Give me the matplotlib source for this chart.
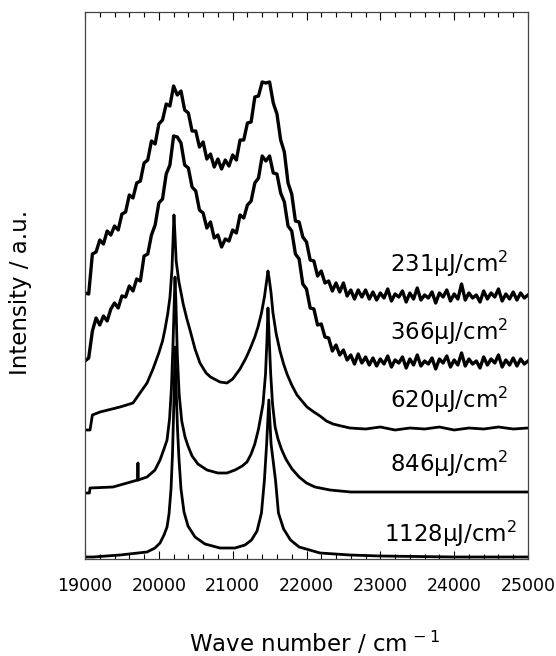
import matplotlib
matplotlib.use("Agg")
import matplotlib.pyplot as plt
import numpy as np
from matplotlib.ticker import MultipleLocator

# excitation fluences of the five spectra (label text)
FLUENCES = ["231", "366", "620", "846", "1128"]

# the two low-fluence spectra are noisy; read every 50 cm^-1
WN_NOISY = np.arange(19000, 25001, 50)

I_231 = [
    2.66, 2.65, 3.05, 3.07, 3.19, 3.15, 3.28, 3.24, 3.33, 3.29,
    3.45, 3.47, 3.64, 3.61, 3.76, 3.78, 3.96, 3.99, 4.18, 4.15,
    4.35, 4.39, 4.55, 4.53, 4.73, 4.64, 4.68, 4.49, 4.46, 4.28,
    4.28, 4.12, 4.17, 4.00, 4.05, 3.92, 4.00, 3.90, 3.99, 3.93,
    4.04, 3.99, 4.19, 4.19, 4.36, 4.37, 4.62, 4.63, 4.77, 4.76,
    4.77, 4.56, 4.45, 4.19, 4.07, 3.76, 3.65, 3.38, 3.37, 3.22,
    3.17, 2.99, 2.98, 2.83, 2.88, 2.76, 2.78, 2.68, 2.76, 2.67,
    2.76, 2.63, 2.69, 2.60, 2.69, 2.62, 2.69,
    2.60, 2.67, 2.59, 2.66, 2.61, 2.70, 2.58, 2.65, 2.62, 2.68,
    2.57, 2.66, 2.60, 2.71, 2.59, 2.64, 2.61, 2.67, 2.56, 2.66,
    2.62, 2.69, 2.58, 2.65, 2.60, 2.75, 2.59, 2.66, 2.61, 2.64,
    2.57, 2.68, 2.60, 2.66, 2.62, 2.70, 2.58, 2.65, 2.60, 2.67,
    2.59, 2.66, 2.61, 2.64,
]

I_366 = [
    1.98, 2.01, 2.28, 2.41, 2.34, 2.43, 2.38, 2.50, 2.56, 2.51,
    2.63, 2.62, 2.73, 2.68, 2.80, 2.78, 3.03, 3.05, 3.24, 3.34,
    3.56, 3.60, 3.85, 3.94, 4.23, 4.22, 4.16, 3.94, 3.91, 3.72,
    3.68, 3.49, 3.46, 3.31, 3.37, 3.21, 3.24, 3.12, 3.20, 3.18,
    3.29, 3.26, 3.44, 3.41, 3.54, 3.58, 3.76, 3.81, 4.03, 3.98,
    4.03, 3.86, 3.85, 3.66, 3.57, 3.33, 3.28, 3.05, 3.00, 2.75,
    2.70, 2.51, 2.50, 2.34, 2.35, 2.22, 2.21, 2.08, 2.14, 2.04,
    2.09, 1.99, 2.04, 1.95, 2.05, 1.96, 2.02,
    1.94, 2.01, 1.93, 2.00, 1.95, 2.03, 1.92, 1.99, 1.96, 2.02,
    1.91, 2.00, 1.94, 2.04, 1.93, 1.98, 1.95, 2.01, 1.90, 2.00,
    1.96, 2.03, 1.92, 1.99, 1.94, 2.06, 1.93, 2.00, 1.95, 1.98,
    1.91, 2.02, 1.94, 2.00, 1.96, 2.04, 1.92, 1.99, 1.94, 2.01,
    1.93, 2.00, 1.95, 1.98,
]

WN_620 = [
    19000, 19068, 19100, 19203, 19474, 19650, 19745, 19840, 19921, 20000,
    20050, 20084, 20120, 20151, 20178, 20195, 20205, 20218, 20235, 20270,
    20330, 20380, 20422, 20490, 20557, 20640, 20700, 20828, 20923, 21000,
    21099, 21180, 21235, 21300, 21343, 21390, 21430, 21460, 21478, 21495,
    21520, 21546, 21590, 21641, 21690, 21736, 21800, 21871, 22007, 22100,
    22183, 22270, 22359, 22470, 22589, 22800, 23000, 23200, 23400, 23600,
    23800, 24000, 24200, 24400, 24600, 24800, 25000,
]
I_620 = [
    1.29, 1.29, 1.44, 1.47, 1.52, 1.56, 1.66, 1.76, 1.90, 2.06,
    2.18, 2.30, 2.45, 2.62, 2.90, 3.25, 3.44, 3.25, 2.98, 2.78,
    2.55, 2.40, 2.29, 2.10, 1.96, 1.86, 1.82, 1.77, 1.76, 1.80,
    1.90, 2.01, 2.10, 2.22, 2.32, 2.46, 2.62, 2.78, 2.88, 2.80,
    2.66, 2.46, 2.25, 2.08, 1.95, 1.85, 1.74, 1.64, 1.52, 1.47,
    1.43, 1.38, 1.35, 1.33, 1.31, 1.30, 1.32, 1.29, 1.31, 1.30,
    1.32, 1.29, 1.31, 1.30, 1.32, 1.30, 1.31,
]

WN_846 = [
    19000, 19060, 19068, 19379, 19714, 19717, 19720, 19840, 19948, 20016,
    20070, 20111, 20145, 20170, 20192, 20210, 20219, 20232, 20250, 20275,
    20310, 20355, 20395, 20450, 20530, 20652, 20800, 20923, 21032, 21130,
    21194, 21250, 21300, 21350, 21411, 21445, 21465, 21478, 21495, 21515,
    21540, 21575, 21614, 21660, 21720, 21804, 21900, 22000, 22115, 22318,
    22600, 23000, 24000, 25000,
]
I_846 = [
    0.66, 0.66, 0.71, 0.72, 0.79, 0.96, 0.79, 0.82, 0.89, 0.99,
    1.10, 1.19, 1.40, 1.70, 2.15, 2.60, 2.82, 2.55, 2.05, 1.65,
    1.38, 1.22, 1.13, 1.03, 0.95, 0.89, 0.86, 0.86, 0.89, 0.93,
    0.97, 1.05, 1.15, 1.30, 1.55, 1.85, 2.20, 2.51, 2.20, 1.85,
    1.55, 1.32, 1.20, 1.10, 1.00, 0.90, 0.82, 0.76, 0.72, 0.69,
    0.67, 0.67, 0.67, 0.67,
]

WN_1128 = [
    19000, 19108, 19474, 19840, 19948, 20016, 20070, 20111, 20138, 20165,
    20185, 20205, 20219, 20232, 20253, 20273, 20300, 20341, 20395, 20490,
    20625, 20828, 21032, 21167, 21255, 21330, 21390, 21430, 21460, 21490,
    21520, 21580, 21620, 21690, 21783, 21900, 22183, 22589, 23000, 24000,
    25000,
]
I_1128 = [
    0.02, 0.02, 0.04, 0.07, 0.11, 0.16, 0.24, 0.32, 0.45, 0.70,
    1.05, 1.60, 2.12, 1.75, 1.30, 1.00, 0.70, 0.47, 0.33, 0.22,
    0.15, 0.11, 0.11, 0.14, 0.19, 0.28, 0.46, 0.79, 1.15, 1.59,
    1.15, 0.79, 0.46, 0.30, 0.19, 0.12, 0.06, 0.04, 0.03, 0.02,
    0.02,
]

# label anchors (right edge x in cm^-1, baseline y in a.u.)
LABEL_X = [24730, 24730, 24730, 24730, 24850]
LABEL_Y = [2.87, 2.19, 1.51, 0.87, 0.17]

fig = plt.figure(figsize=(5.56, 6.56), dpi=100)
ax = fig.add_axes([85 / 556, 1 - 559 / 656, 443 / 556, 547 / 656])

spectra = [
    (WN_NOISY, I_231, 2.4),
    (WN_NOISY, I_366, 2.4),
    (WN_620, I_620, 2.0),
    (WN_846, I_846, 2.0),
    (WN_1128, I_1128, 2.0),
]
for wn, inten, lw in spectra:
    ax.plot(wn, inten, color="black", lw=lw)

for fl, lx, ly in zip(FLUENCES, LABEL_X, LABEL_Y):
    ax.text(lx, ly, f"{fl}\u03bcJ/cm$^2$", ha="right", va="baseline",
            fontsize=16.5, color="black")

ax.set_xlim(19000, 25000)
ax.set_ylim(0, 5.47)
ax.xaxis.set_major_locator(MultipleLocator(1000))
ax.xaxis.set_minor_locator(MultipleLocator(200))
ax.tick_params(axis="x", which="both", direction="in", top=True, bottom=True,
               labelsize=12.5, pad=13, width=0.8)
ax.tick_params(axis="x", which="major", length=6)
ax.tick_params(axis="x", which="minor", length=3.5)
ax.set_yticks([])
for sp in ax.spines.values():
    sp.set_linewidth(0.9)
    sp.set_color("#444444")

ax.set_xlabel(r"Wave number / cm$^{\,-1}$", fontsize=16.5)
ax.set_ylabel("Intensity / a.u.", fontsize=16.5)
ax.xaxis.set_label_coords(0.519, -0.13)
ax.yaxis.set_label_coords(-0.12, 0.488)

fig.savefig("out.png", dpi=100)
